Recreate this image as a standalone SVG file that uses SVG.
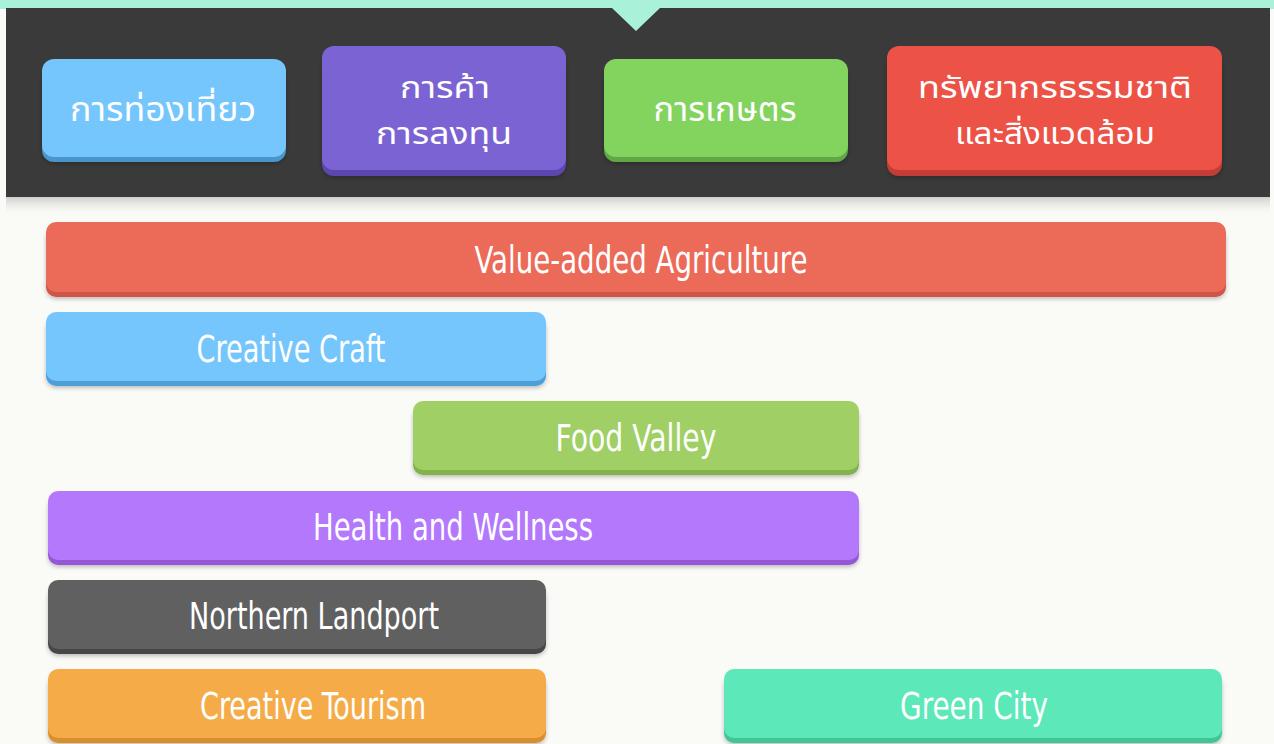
<svg xmlns="http://www.w3.org/2000/svg" width="1274" height="744" viewBox="0 0 1274 744">
<defs>
<linearGradient id="shade" x1="0" y1="0" x2="0" y2="1">
<stop offset="0" stop-color="#cfd0cc"/>
<stop offset="1" stop-color="#fafbf7" stop-opacity="0"/>
</linearGradient>
<filter id="sh" x="-5%" y="-20%" width="110%" height="150%">
<feDropShadow dx="0" dy="2" stdDeviation="2" flood-color="#000" flood-opacity="0.25"/>
</filter>
</defs>
<style>
.th{font-family:"Noto Sans Thai","Noto Sans Thai Looped","Loma","Garuda","Noto Sans","DejaVu Sans",sans-serif;font-size:33px;fill:#fff;text-anchor:middle}
.th2{font-size:30px}
.en{font-family:"Liberation Sans Narrow","DejaVu Sans Condensed","Liberation Sans",sans-serif;font-size:37px;fill:#fff;text-anchor:middle}
</style>
<rect x="0" y="0" width="1274" height="744" fill="#fafbf7"/>
<rect x="0" y="0" width="1274" height="9" fill="#a9f1d9"/>
<rect x="6" y="197" width="1264" height="20" fill="url(#shade)"/>
<rect x="6" y="8" width="1264" height="189" fill="#3a3a3a"/>
<polygon points="612,8 660,8 636,31" fill="#a9f1d9"/>

<g id="n-tourism">
<rect x="42" y="64" width="244" height="98" rx="12" fill="#4a95c9" filter="url(#sh)"/>
<rect x="42" y="59" width="244" height="98" rx="12" fill="#74c6fc"/>
<text class="th" x="163" y="121" textLength="186" lengthAdjust="spacingAndGlyphs">การท่องเที่ยว</text>
</g>
<g id="n-trade">
<rect x="322" y="51" width="244" height="125" rx="12" fill="#5c47b0" filter="url(#sh)"/>
<rect x="322" y="46" width="244" height="124" rx="12" fill="#7b63d3"/>
<text class="th th2" x="445" y="98" textLength="90" lengthAdjust="spacingAndGlyphs">การค้า</text>
<text class="th th2" x="444" y="144" textLength="136" lengthAdjust="spacingAndGlyphs">การลงทุน</text>
</g>
<g id="n-agri">
<rect x="604" y="64" width="244" height="98" rx="12" fill="#5fa844" filter="url(#sh)"/>
<rect x="604" y="59" width="244" height="98" rx="12" fill="#83d35f"/>
<text class="th" x="725" y="121" textLength="143" lengthAdjust="spacingAndGlyphs">การเกษตร</text>
</g>
<g id="n-nature">
<rect x="887" y="51" width="335" height="125" rx="12" fill="#c23e35" filter="url(#sh)"/>
<rect x="887" y="46" width="335" height="124" rx="12" fill="#ec5246"/>
<text class="th th2" x="1055" y="98" textLength="274" lengthAdjust="spacingAndGlyphs">ทรัพยากรธรรมชาติ</text>
<text class="th th2" x="1055" y="144" textLength="200" lengthAdjust="spacingAndGlyphs">และสิ่งแวดล้อม</text>
</g>

<g id="b-value">
<rect x="46" y="227" width="1180" height="70" rx="10" fill="#d0544a" filter="url(#sh)"/>
<rect x="46" y="222" width="1180" height="70" rx="10" fill="#ec6a58"/>
<text class="en" x="641" y="273" textLength="333" lengthAdjust="spacingAndGlyphs">Value-added Agriculture</text>
</g>
<g id="b-craft">
<rect x="46" y="317" width="500" height="69" rx="10" fill="#4f9fd6" filter="url(#sh)"/>
<rect x="46" y="312" width="500" height="69" rx="10" fill="#74c6fc"/>
<text class="en" x="291" y="362" textLength="189" lengthAdjust="spacingAndGlyphs">Creative Craft</text>
</g>
<g id="b-food">
<rect x="413" y="406" width="446" height="69" rx="10" fill="#82b34c" filter="url(#sh)"/>
<rect x="413" y="401" width="446" height="69" rx="10" fill="#a0d065"/>
<text class="en" x="636" y="451" textLength="161" lengthAdjust="spacingAndGlyphs">Food Valley</text>
</g>
<g id="b-health">
<rect x="48" y="496" width="811" height="69" rx="10" fill="#9458d6" filter="url(#sh)"/>
<rect x="48" y="491" width="811" height="69" rx="10" fill="#b478fc"/>
<text class="en" x="453" y="540" textLength="280" lengthAdjust="spacingAndGlyphs">Health and Wellness</text>
</g>
<g id="b-landport">
<rect x="48" y="585" width="498" height="69" rx="10" fill="#474747" filter="url(#sh)"/>
<rect x="48" y="580" width="498" height="69" rx="10" fill="#606060"/>
<text class="en" x="314" y="629" textLength="250" lengthAdjust="spacingAndGlyphs">Northern Landport</text>
</g>
<g id="b-ctourism">
<rect x="48" y="674" width="498" height="69" rx="10" fill="#d88d2e" filter="url(#sh)"/>
<rect x="48" y="669" width="498" height="69" rx="10" fill="#f5ac48"/>
<text class="en" x="313" y="719" textLength="226" lengthAdjust="spacingAndGlyphs">Creative Tourism</text>
</g>
<g id="b-green">
<rect x="724" y="674" width="498" height="69" rx="10" fill="#43c497" filter="url(#sh)"/>
<rect x="724" y="669" width="498" height="69" rx="10" fill="#5ce8b8"/>
<text class="en" x="974" y="719" textLength="148" lengthAdjust="spacingAndGlyphs">Green City</text>
</g>
<g id="connectors"/>
</svg>
